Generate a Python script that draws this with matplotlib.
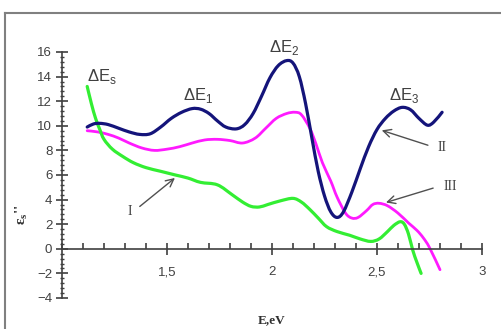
import matplotlib
matplotlib.use("Agg")
import numpy as np
import matplotlib.pyplot as plt
from matplotlib.ticker import MultipleLocator, FixedLocator
from matplotlib.lines import Line2D
from matplotlib.path import Path
from matplotlib.patches import PathPatch

# Curve II (navy)
x2 = [1.12, 1.15, 1.18, 1.22, 1.27, 1.32, 1.37, 1.42, 1.47, 1.52, 1.57, 1.62, 1.66,
      1.70, 1.74, 1.78, 1.83, 1.87, 1.91, 1.95, 1.99, 2.03, 2.07, 2.10, 2.13, 2.16,
      2.19, 2.22, 2.25, 2.28, 2.31, 2.34, 2.38, 2.42, 2.46, 2.50, 2.54, 2.58, 2.62,
      2.66, 2.70, 2.74, 2.77, 2.81]
y2 = [9.9, 10.15, 10.2, 10.1, 9.8, 9.5, 9.3, 9.35, 9.9, 10.6, 11.1, 11.4, 11.35,
      11.0, 10.4, 9.9, 9.75, 10.1, 11.0, 12.4, 13.9, 14.9, 15.3, 15.1, 14.0, 11.8,
      9.0, 6.3, 4.3, 3.0, 2.55, 3.0, 4.6, 6.5, 8.3, 9.7, 10.6, 11.2, 11.5,
      11.3, 10.6, 10.05, 10.3, 11.1]

# Curve III (magenta)
x3 = [1.12, 1.17, 1.22, 1.27, 1.32, 1.38, 1.44, 1.50, 1.56, 1.62, 1.68, 1.74, 1.80,
      1.86, 1.92, 1.97, 2.02, 2.07, 2.11, 2.14, 2.18, 2.21, 2.24, 2.28, 2.31, 2.35,
      2.38, 2.41, 2.45, 2.48, 2.51, 2.55, 2.60, 2.65, 2.69, 2.72, 2.75, 2.80]
y3 = [9.6, 9.5, 9.3, 9.0, 8.6, 8.2, 8.0, 8.1, 8.3, 8.6, 8.85, 8.9, 8.8,
      8.6, 9.0, 9.8, 10.6, 11.0, 11.1, 10.9, 9.8, 8.5, 7.0, 5.5, 4.2, 2.9,
      2.5, 2.55, 3.1, 3.6, 3.7, 3.5, 2.9, 2.1, 1.5, 0.9, 0.1, -1.7]

# Curve I (green)
x1 = [1.12, 1.14, 1.16, 1.18, 1.20, 1.24, 1.29, 1.34, 1.40, 1.47, 1.54, 1.60, 1.66,
      1.74, 1.81, 1.86, 1.90, 1.94, 1.98, 2.04, 2.10, 2.14, 2.18, 2.22, 2.26, 2.31,
      2.37, 2.42, 2.47, 2.51, 2.55, 2.58, 2.61, 2.63, 2.65, 2.67, 2.69, 2.71]
y1 = [13.2, 11.8, 10.6, 9.7, 8.9, 8.1, 7.5, 7.0, 6.6, 6.3, 6.0, 5.75, 5.4,
      5.2, 4.4, 3.8, 3.45, 3.4, 3.6, 3.9, 4.1, 3.8, 3.2, 2.5, 1.8, 1.4,
      1.1, 0.8, 0.6, 0.8, 1.4, 1.9, 2.2, 2.0, 1.2, -0.1, -1.1, -2.0]

x_ticks = [1.5, 2.0, 2.5, 3.0]
x_ticklabels = ["1,5", "2", "2,5", "3"]
y_ticks = [-4, -2, 0, 2, 4, 6, 8, 10, 12, 14, 16]


def smooth_path(xs, ys):
    """Catmull-Rom curve through the read points, drawn as cubic Bezier segments."""
    p = np.column_stack([xs, ys]).astype(float)
    n = len(p)
    verts = [p[0]]
    codes = [Path.MOVETO]
    for i in range(n - 1):
        p0 = p[i - 1] if i > 0 else p[i]
        p1, p2 = p[i], p[i + 1]
        p3 = p[i + 2] if i + 2 < n else p[i + 1]
        c1 = p1 + (p2 - p0) / 6.0
        c2 = p2 - (p3 - p1) / 6.0
        verts += [c1, c2, p2]
        codes += [Path.CURVE4] * 3
    return Path(verts, codes)


W, H = 502, 329
fig = plt.figure(figsize=(W / 100, H / 100), dpi=100)

# outer frame (gray)
fig.add_artist(Line2D([5 / W, 5 / W], [0, 1 - 13 / H], transform=fig.transFigure,
                      color="#808080", lw=1.5))
fig.add_artist(Line2D([5 / W, 1], [1 - 13 / H, 1 - 13 / H], transform=fig.transFigure,
                      color="#808080", lw=1.5))

ax = fig.add_axes([62 / W, 1 - 298 / H, (482 - 62) / W, (298 - 52) / H])
ax.set_xlim(1, 3)
ax.set_ylim(-4, 16)

for xs, ys, col, lw, z in [(x3, y3, "#ff1aff", 2.0, 2),
                           (x1, y1, "#33ee33", 2.3, 2),
                           (x2, y2, "#14147a", 2.3, 3)]:
    ax.add_patch(PathPatch(smooth_path(xs, ys), facecolor="none", edgecolor=col,
                           lw=lw, capstyle="round", joinstyle="round", zorder=z))

for s in ["top", "right"]:
    ax.spines[s].set_visible(False)
ax.spines["bottom"].set_position(("data", 0))
ax.spines["left"].set_position(("data", 1))
ax.spines["bottom"].set_color("#404040")
ax.spines["left"].set_color("#404040")
ax.spines["bottom"].set_linewidth(1.2)
ax.spines["left"].set_linewidth(1.2)
ax.spines["bottom"].set_bounds(1, 3)
ax.spines["left"].set_bounds(-4, 16)

ax.xaxis.set_major_locator(FixedLocator(x_ticks))
ax.set_xticklabels(x_ticklabels)
ax.xaxis.set_minor_locator(MultipleLocator(0.1))
ax.yaxis.set_major_locator(FixedLocator(y_ticks))
ax.yaxis.set_minor_locator(MultipleLocator(0.4))

ax.tick_params(axis="x", which="major", direction="inout", length=9, width=1.2,
               colors="#404040", pad=8, labelsize=9.5, labelcolor="#404040")
ax.tick_params(axis="x", which="minor", direction="in", length=4, width=1.2,
               colors="#404040")
ax.tick_params(axis="y", which="major", direction="inout", length=8, width=1.2,
               colors="#404040", pad=3, labelsize=9.5, labelcolor="#404040")
ax.tick_params(axis="y", which="minor", direction="inout", length=3, width=1.0,
               colors="#404040")

for lab in ax.get_xticklabels() + ax.get_yticklabels():
    lab.set_fontfamily("Liberation Sans")

ax.set_xlabel("E,eV", fontfamily="Liberation Serif", fontweight="bold", fontsize=9.5,
              color="#303030")
ax.xaxis.set_label_coords(0.5, -0.065)
fig.text(22 / W, 1 - 215 / H, "ε$_\\mathregular{s}$''", rotation=90, ha="center",
         va="center", fontfamily="Liberation Serif", fontweight="bold", fontsize=11,
         color="#303030")

lab_kw = dict(fontfamily="Liberation Sans", fontsize=12, color="#404040",
              ha="center", va="center", clip_on=False)
ax.text(1.19, 14.0, "ΔE$_\\mathregular{s}$", **lab_kw)
ax.text(1.65, 12.5, "ΔE$_\\mathregular{1}$", **lab_kw)
ax.text(2.06, 16.4, "ΔE$_\\mathregular{2}$", **lab_kw)
ax.text(2.63, 12.5, "ΔE$_\\mathregular{3}$", **lab_kw)

arr = dict(arrowstyle="->", color="#505050", lw=1.0, mutation_scale=14)
txt_kw = dict(fontfamily="Liberation Serif", fontsize=10, color="#404040",
              ha="center", va="center")
ax.annotate("", xy=(1.548, 5.9), xytext=(1.36, 3.3), arrowprops=arr)
ax.text(1.325, 3.0, "I", **txt_kw)
ax.annotate("", xy=(2.51, 9.7), xytext=(2.755, 8.35), arrowprops=arr)
ax.text(2.81, 8.2, "II", **txt_kw)
ax.annotate("", xy=(2.53, 3.7), xytext=(2.78, 5.0), arrowprops=arr)
ax.text(2.85, 5.1, "III", **txt_kw)

fig.savefig("out.png", dpi=100)
